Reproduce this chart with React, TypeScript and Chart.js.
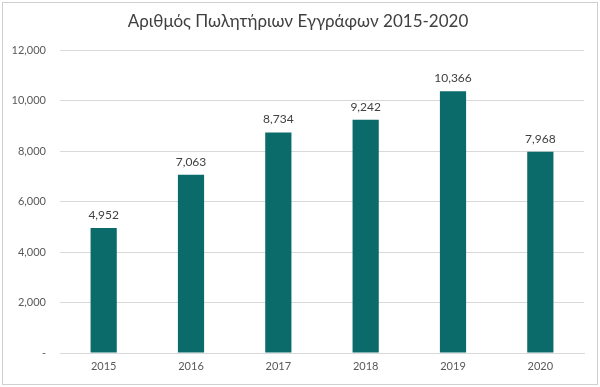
import React, { useEffect, useRef } from "react";
import { Chart, registerables } from "chart.js";

Chart.register(...registerables);

const titleText = "Αριθμός Πωλητήριων Εγγράφων 2015-2020";
const categories = ["2015", "2016", "2017", "2018", "2019", "2020"];
const values = [4952, 7063, 8734, 9242, 10366, 7968];
const yMax = 12000;
const yStep = 2000;

const FONT = "Lato, 'Open Sans', sans-serif";
const BAR = "#0B6A6A";
const TEXT = "#595959";

const fmt = (v: number) => (v === 0 ? "-" : v.toLocaleString("en-US"));

export default function App() {
  const ref = useRef<HTMLCanvasElement | null>(null);
  useEffect(() => {
    if (!ref.current) return;
    const decor = {
      id: "decor",
      beforeDraw(chart: any) {
        const ctx = chart.ctx;
        ctx.save();
        ctx.fillStyle = "#ffffff";
        ctx.fillRect(0, 0, chart.width, chart.height);
        ctx.strokeStyle = "#d0d0d0";
        ctx.lineWidth = 1;
        ctx.strokeRect(2.5, 2.5, chart.width - 5, chart.height - 5);
        ctx.restore();
      },
      afterDraw(chart: any) {
        const ctx = chart.ctx;
        ctx.save();
        ctx.fillStyle = "#404040";
        ctx.font = `17px ${FONT}`;
        ctx.textAlign = "center";
        ctx.textBaseline = "middle";
        ctx.fillText(titleText, 298, 22);
        const meta = chart.getDatasetMeta(0);
        ctx.font = `12px ${FONT}`;
        ctx.fillStyle = "#404040";
        ctx.textBaseline = "alphabetic";
        meta.data.forEach((bar: any, i: number) => {
          ctx.fillText(fmt(values[i]), bar.x, bar.y - 9);
        });
        ctx.restore();
      },
    };
    const chart = new Chart(ref.current, {
      type: "bar",
      data: {
        labels: categories,
        datasets: [
          {
            data: values,
            backgroundColor: BAR,
            borderWidth: 0,
            barPercentage: 0.3,
            categoryPercentage: 1,
          },
        ],
      },
      options: {
        animation: false,
        responsive: false,
        maintainAspectRatio: false,
        layout: { padding: { left: 8, right: 16, top: 50, bottom: 0 } },
        plugins: {
          legend: { display: false },
          title: { display: false },
          tooltip: { enabled: false },
        },
        scales: {
          x: {
            grid: { display: false, drawTicks: false },
            border: { display: true, color: "#d9d9d9" },
            ticks: { color: TEXT, font: { family: FONT, size: 11 }, padding: 7 },
            afterFit: (s: any) => {
              s.height = 34;
            },
          },
          y: {
            min: 0,
            max: yMax,
            grid: { color: "#d9d9d9", drawTicks: false },
            border: { display: false },
            ticks: {
              stepSize: yStep,
              color: TEXT,
              font: { family: FONT, size: 11 },
              padding: 14,
              callback: (v: any) => fmt(Number(v)),
            },
            afterFit: (s: any) => {
              s.width = 52;
            },
          },
        },
      },
      plugins: [decor],
    });
    return () => chart.destroy();
  }, []);
  return (
    <div style={{ position: "fixed", left: 0, top: 0, width: 600, height: 387 }}>
      <canvas ref={ref} width={600} height={387} style={{ display: "block" }} />
    </div>
  );
}
